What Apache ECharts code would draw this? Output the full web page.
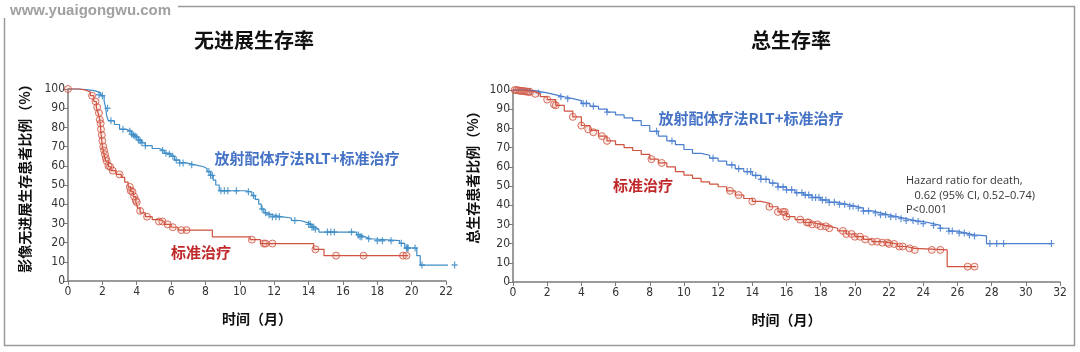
<!DOCTYPE html>
<html>
<head>
<meta charset="utf-8">
<script src="https://cdn.jsdelivr.net/npm/echarts@6/dist/echarts.min.js"></script>
<style>html,body{margin:0;padding:0;background:#fff;}#c{width:1080px;height:352px;}</style>
</head>
<body>
<div id="c"></div>
<script>
// ---------- DATA ----------
const titles = ['无进展生存率', '总生存率'];
const yNames = ['影像无进展生存患者比例（%）', '总生存患者比例（%）'];
const xName = '时间（月）';
const seriesNames = ['放射配体疗法RLT+标准治疗', '标准治疗'];
const hazardText = ['Hazard ratio for death,', '   0.62 (95% CI, 0.52\u20130.74)', 'P<0.001'];
const watermark = 'www.yuaigongwu.com';

// PFS (left), step curves [month, %]
const pfsRLT = [[0,100],[0.6,99.5],[1.2,99],[1.6,98],[1.9,96.5],[2.1,94],[2.2,90],[2.25,86],[2.35,83.5],[2.7,81.5],[3.0,79],[3.4,78],[3.7,76.5],[3.9,75],[4.1,73.5],[4.3,72],[4.5,70.5],[4.9,69],[5.3,68],[5.6,66.5],[6.0,65],[6.2,63],[6.5,61.5],[6.9,60.5],[7.4,59.5],[7.9,58.5],[8.1,57],[8.3,55],[8.45,52.5],[8.6,50],[8.8,47],[10.3,46.5],[10.7,44.5],[10.9,42.5],[11.1,40],[11.25,37.5],[11.4,35.5],[11.6,34.5],[11.9,33.5],[12.4,32.8],[13.0,31.5],[13.5,30.5],[13.9,29.5],[14.2,28],[14.4,27],[14.6,25.5],[16.8,24],[17.0,23],[17.3,22],[17.6,21],[19.3,19.6],[19.6,17.2],[20.3,13.2],[20.5,8.3],[22.55,8.3]];
const pfsSOC = [[0,100],[0.6,99.5],[1.0,98.5],[1.3,96.5],[1.5,93.5],[1.65,90.5],[1.75,87.5],[1.85,84],[1.9,79],[1.95,74],[2.0,70],[2.1,66],[2.2,62.5],[2.35,59.5],[2.5,57.5],[2.8,55.5],[3.1,54],[3.3,51.5],[3.5,49],[3.65,46.5],[3.8,44],[3.95,41],[4.05,38],[4.2,35.5],[4.5,33.5],[4.9,32],[5.3,31],[5.6,29.5],[6.0,28],[6.4,26.5],[8.4,23],[10.6,21.5],[11.2,19.5],[14.3,16.5],[14.9,13.2],[19.8,13.2]];
const pfsRLTCensor = [[1.8,97],[2.0,96.5],[2.3,90],[2.5,83.5],[3.2,79],[3.6,78],[3.7,76.5],[3.8,76],[3.9,75.5],[4.0,75],[4.1,73.5],[4.2,73],[4.3,72],[4.5,70.5],[5.5,68],[5.7,66.5],[5.9,66],[6.1,65],[6.3,63],[6.5,61.5],[6.7,61.5],[7.2,60.5],[8.2,57],[8.3,55],[8.4,55],[8.9,47],[9.1,47],[9.3,47],[9.8,47],[10.5,46.5],[10.8,44.5],[11.3,37.5],[11.5,35.5],[11.7,34.5],[11.9,33.5],[12.1,33.5],[12.3,33.5],[13.2,31.5],[14.0,29.5],[14.1,29.5],[14.2,28],[14.3,28],[14.4,27],[15.1,25.5],[15.3,25.5],[15.5,25.5],[16.5,25.5],[16.9,24],[17.0,23],[17.1,23],[17.5,22],[18.0,21],[18.3,21],[18.8,21],[19.4,19.6],[19.7,17.2],[19.75,17.2],[19.8,17.2],[20.2,17.2],[20.6,8.3],[22.5,8.3]];
const pfsSOCCensor = [[0,100],[1.4,96.5],[1.6,93.5],[1.7,90.5],[1.8,87.5],[1.85,84],[1.9,82],[1.92,79],[1.97,76],[2.0,73],[2.05,70],[2.1,68],[2.15,66],[2.2,64],[2.25,62.5],[2.35,60],[2.45,59.5],[2.6,57.5],[3.0,55.5],[3.6,49],[3.65,47],[3.75,46.5],[3.85,44],[3.95,42],[4.0,41],[4.2,36.5],[4.6,33.5],[5.3,31],[5.5,31],[5.8,29.5],[6.1,28],[6.6,26.5],[6.9,26.5],[10.7,21.5],[11.4,19.5],[11.5,19.5],[11.9,19.5],[14.4,16.5],[15.6,13.2],[17.2,13.2],[19.5,13.2],[19.7,13.2]];

// OS (right)
const osRLT = [[0,100],[0.5,99.8],[1,99.3],[1.5,98.5],[2,97.5],[2.5,96.5],[3,95.5],[3.5,94.5],[4,93],[4.5,91.5],[5,90],[5.5,88.5],[6,87],[6.5,85.5],[7,84],[7.5,81.5],[8,78.5],[8.5,76],[9,73.5],[9.5,71.5],[10,69],[10.5,67],[11,66],[11.5,64.5],[12,63],[12.5,61],[13,59],[13.5,57.5],[14,55.5],[14.5,53.5],[15,51.5],[15.5,49.5],[16,48],[16.5,46.5],[17,45.3],[17.5,44],[18,42.7],[18.5,41.5],[19,40.5],[19.5,39.5],[20,38.5],[20.5,37],[21,36],[21.5,35],[22,34],[22.5,33],[23,32],[23.5,31.5],[24,30.5],[24.5,29.5],[25,28],[25.5,26.5],[26,25.5],[26.5,24.5],[27,24],[27.7,20],[31.5,20]];
const osSOC = [[0,100],[0.5,99.5],[1,99],[1.3,98],[1.6,96.5],[2,95],[2.5,92],[3,89],[3.5,86],[4,81.5],[4.5,79],[5,76],[5.5,73.5],[6,71.5],[6.5,70],[7,68.5],[7.5,66.5],[8,64],[8.5,62],[9,60],[9.5,57.5],[10,55.7],[10.5,54],[11,52.2],[11.5,51],[12,49.6],[12.5,47.5],[13,45.3],[13.5,43.5],[14,42],[14.5,41],[15,39.2],[15.5,36.5],[16,34],[16.5,32.5],[17,31],[17.5,30],[18,29],[18.5,28],[19,26.6],[19.5,25],[20,23.6],[20.5,22.2],[21,21],[21.5,20.5],[22,19.8],[22.5,18.5],[23,17.5],[23.5,16.7],[25.4,8],[27.1,8]];
const osRLTCensor = [[1.0,99.3],[1.5,98.5],[2.8,96.5],[3.2,95.5],[4.1,93],[4.3,93],[4.7,91.5],[5.5,88.5],[8.4,78.5],[9.3,73.5],[11.7,64.5],[12.8,61],[13.2,59],[13.7,57.5],[13.9,57.5],[14.2,55.5],[14.5,53.5],[14.8,53.5],[15.2,51.5],[15.5,49.5],[15.8,49.5],[16.0,48],[16.3,48],[16.6,46.5],[16.9,46.5],[17.1,45.3],[17.3,45.3],[17.5,44],[17.7,44],[17.9,44],[18.1,42.7],[18.3,42.7],[18.5,41.5],[18.8,41.5],[19.1,40.5],[19.4,40.5],[19.7,39.5],[19.9,39.5],[20.2,38.5],[20.5,37],[20.8,37],[21.2,36],[21.5,35],[21.8,35],[22.1,34],[22.4,34],[22.7,33],[23.0,32],[23.4,32],[23.7,31.5],[24.0,30.5],[24.6,29.5],[25.0,28],[25.5,26.5],[25.7,26.5],[26.1,25.5],[26.4,25.5],[26.7,24.5],[27.0,24],[27.9,20],[28.3,20],[28.7,20],[31.5,20]];
const osSOCCensor = [[0.1,100],[0.2,100],[0.3,99.8],[0.4,99.6],[0.5,99.5],[0.6,99.5],[0.7,99.3],[0.8,99.2],[0.9,99],[1.0,99],[1.3,98],[2.0,95],[2.4,92.5],[2.5,92],[3.5,86],[4.0,81.5],[4.4,79.5],[4.7,78],[5.2,76],[5.5,73.5],[8.1,64],[8.7,62],[12.7,47.5],[13.2,45.3],[14.0,42],[15.0,39.2],[15.5,36.5],[15.8,36.5],[15.9,36.5],[16.0,34],[16.8,32.5],[17.2,31],[17.3,31],[17.5,30],[17.8,30],[18.0,29],[18.3,29],[18.5,28],[19.3,26.6],[19.5,25],[19.8,25],[20.0,23.6],[20.3,23.6],[20.6,22.2],[21.0,21],[21.3,21],[21.6,20.5],[21.9,20.5],[22.0,19.8],[22.3,19.8],[22.6,18.5],[22.8,18.5],[23.2,17.5],[23.5,16.7],[24.5,16.7],[25.0,16.7],[26.6,8],[27.0,8]];

const xMax = [22, 32];

// ---------- STYLE ----------
const BLUE_L = '#3e8dc7', BLUE_R = '#4a7fd0', RED = '#d0533f';
const BLUE_TXT = '#4472c4', RED_TXT = '#c0282a';
const plusPath = 'path://M4,0H6V4H10V6H6V10H4V6H0V4H4Z';
const tickFont = '"Liberation Sans Narrow","DejaVu Sans Condensed","Noto Sans",sans-serif';
const cjk = '"Noto Sans CJK SC","Noto Sans",sans-serif';

const chart = echarts.init(document.getElementById('c'), null, {renderer: 'canvas'});

function xAx(i) {
  return {
    gridIndex: i, type: 'value', min: 0, max: xMax[i], interval: 2,
    name: xName, nameLocation: 'middle', nameGap: 31,
    nameTextStyle: {fontFamily: cjk, fontWeight: 'bold', fontSize: 14, color: '#111'},
    axisLine: {lineStyle: {color: '#7a7a7a', width: 1.5}},
    axisTick: {show: true, length: 4, lineStyle: {color: '#7a7a7a'}},
    splitLine: {show: false},
    axisLabel: {fontFamily: tickFont, fontSize: 12, color: '#333', margin: 5}
  };
}
function yAx(i) {
  return {
    gridIndex: i, type: 'value', min: 0, max: 100, interval: 10,
    axisLine: {show: true, lineStyle: {color: '#7a7a7a', width: 1.5}},
    axisTick: {show: true, length: 4, lineStyle: {color: '#7a7a7a'}},
    splitLine: {show: false},
    axisLabel: {fontFamily: tickFont, fontSize: 12, color: '#333', margin: 3}
  };
}
function stepLine(i, data, color) {
  return {type: 'line', xAxisIndex: i, yAxisIndex: i, data: data, step: 'end',
    showSymbol: false, symbol: 'none', clip: false, silent: true,
    lineStyle: {color: color, width: 1.2}, animation: false};
}
function plusMarks(i, data, color) {
  return {type: 'scatter', xAxisIndex: i, yAxisIndex: i, data: data, symbol: plusPath,
    symbolSize: [6, 7], clip: false, silent: true, itemStyle: {color: color, opacity: 0.85}, animation: false};
}
function circleMarks(i, data, color) {
  return {type: 'scatter', xAxisIndex: i, yAxisIndex: i, data: data, symbol: 'circle',
    symbolSize: 7, clip: false, silent: true,
    itemStyle: {color: 'rgba(230,150,140,0.25)', borderColor: color, borderWidth: 1}, animation: false};
}
function vName(x, y, text) {
  return {type: 'text', x: x, y: y, rotation: Math.PI / 2,
    style: {text: text, font: 'bold 14px ' + cjk, fill: '#111', textAlign: 'center', textVerticalAlign: 'middle'}, z: 5};
}

const option = {
  backgroundColor: '#fff',
  animation: false,
  title: [
    {text: titles[0], left: 249, top: 25, textAlign: 'center',
      textStyle: {fontFamily: cjk, fontWeight: 'bold', fontSize: 20, color: '#111'}},
    {text: titles[1], left: 786, top: 25, textAlign: 'center',
      textStyle: {fontFamily: cjk, fontWeight: 'bold', fontSize: 20, color: '#111'}}
  ],
  grid: [
    {left: 68, top: 89, width: 378, height: 192},
    {left: 513, top: 90, width: 547, height: 192}
  ],
  xAxis: [xAx(0), xAx(1)],
  yAxis: [yAx(0), yAx(1)],
  series: [
    stepLine(0, pfsRLT, BLUE_L),
    stepLine(0, pfsSOC, RED),
    plusMarks(0, pfsRLTCensor, BLUE_L),
    circleMarks(0, pfsSOCCensor, RED),
    stepLine(1, osRLT, BLUE_R),
    stepLine(1, osSOC, RED),
    plusMarks(1, osRLTCensor, BLUE_R),
    circleMarks(1, osSOCCensor, RED)
  ],
  graphic: [
    {type: 'rect', shape: {x: 4.5, y: 6.5, width: 1070, height: 339}, style: {fill: 'none', stroke: '#9a9a9a', lineWidth: 1.5}, z: 0},
    {type: 'rect', shape: {x: 0, y: 0, width: 178, height: 18}, style: {fill: '#fff'}, z: 1},
    {type: 'text', x: 10, y: 3, style: {text: watermark, font: 'bold 15px "Liberation Sans",Arial,sans-serif', fill: '#a0a0a0'}, z: 2},
    vName(25, 175, yNames[0]),
    vName(473, 174, yNames[1]),
    {type: 'text', x: 307, y: 158, style: {text: seriesNames[0], font: 'bold 15px ' + cjk, fill: BLUE_TXT, textAlign: 'center', textVerticalAlign: 'middle'}, z: 5},
    {type: 'text', x: 201, y: 252, style: {text: seriesNames[1], font: 'bold 15px ' + cjk, fill: RED_TXT, textAlign: 'center', textVerticalAlign: 'middle'}, z: 5},
    {type: 'text', x: 751, y: 118, style: {text: seriesNames[0], font: 'bold 15px ' + cjk, fill: BLUE_TXT, textAlign: 'center', textVerticalAlign: 'middle'}, z: 5},
    {type: 'text', x: 643, y: 185, style: {text: seriesNames[1], font: 'bold 15px ' + cjk, fill: RED_TXT, textAlign: 'center', textVerticalAlign: 'middle'}, z: 5},
    {type: 'text', x: 906, y: 181, style: {text: hazardText[0], font: '11px "Open Sans","Noto Sans",sans-serif', fill: '#333', textVerticalAlign: 'middle'}, z: 5},
    {type: 'text', x: 906, y: 196, style: {text: hazardText[1], font: '11px "Open Sans","Noto Sans",sans-serif', fill: '#333', textVerticalAlign: 'middle'}, z: 5},
    {type: 'text', x: 906, y: 210, style: {text: hazardText[2], font: '11px "Open Sans","Noto Sans",sans-serif', fill: '#333', textVerticalAlign: 'middle'}, z: 5}
  ]
};
chart.setOption(option);
</script>
</body>
</html>
